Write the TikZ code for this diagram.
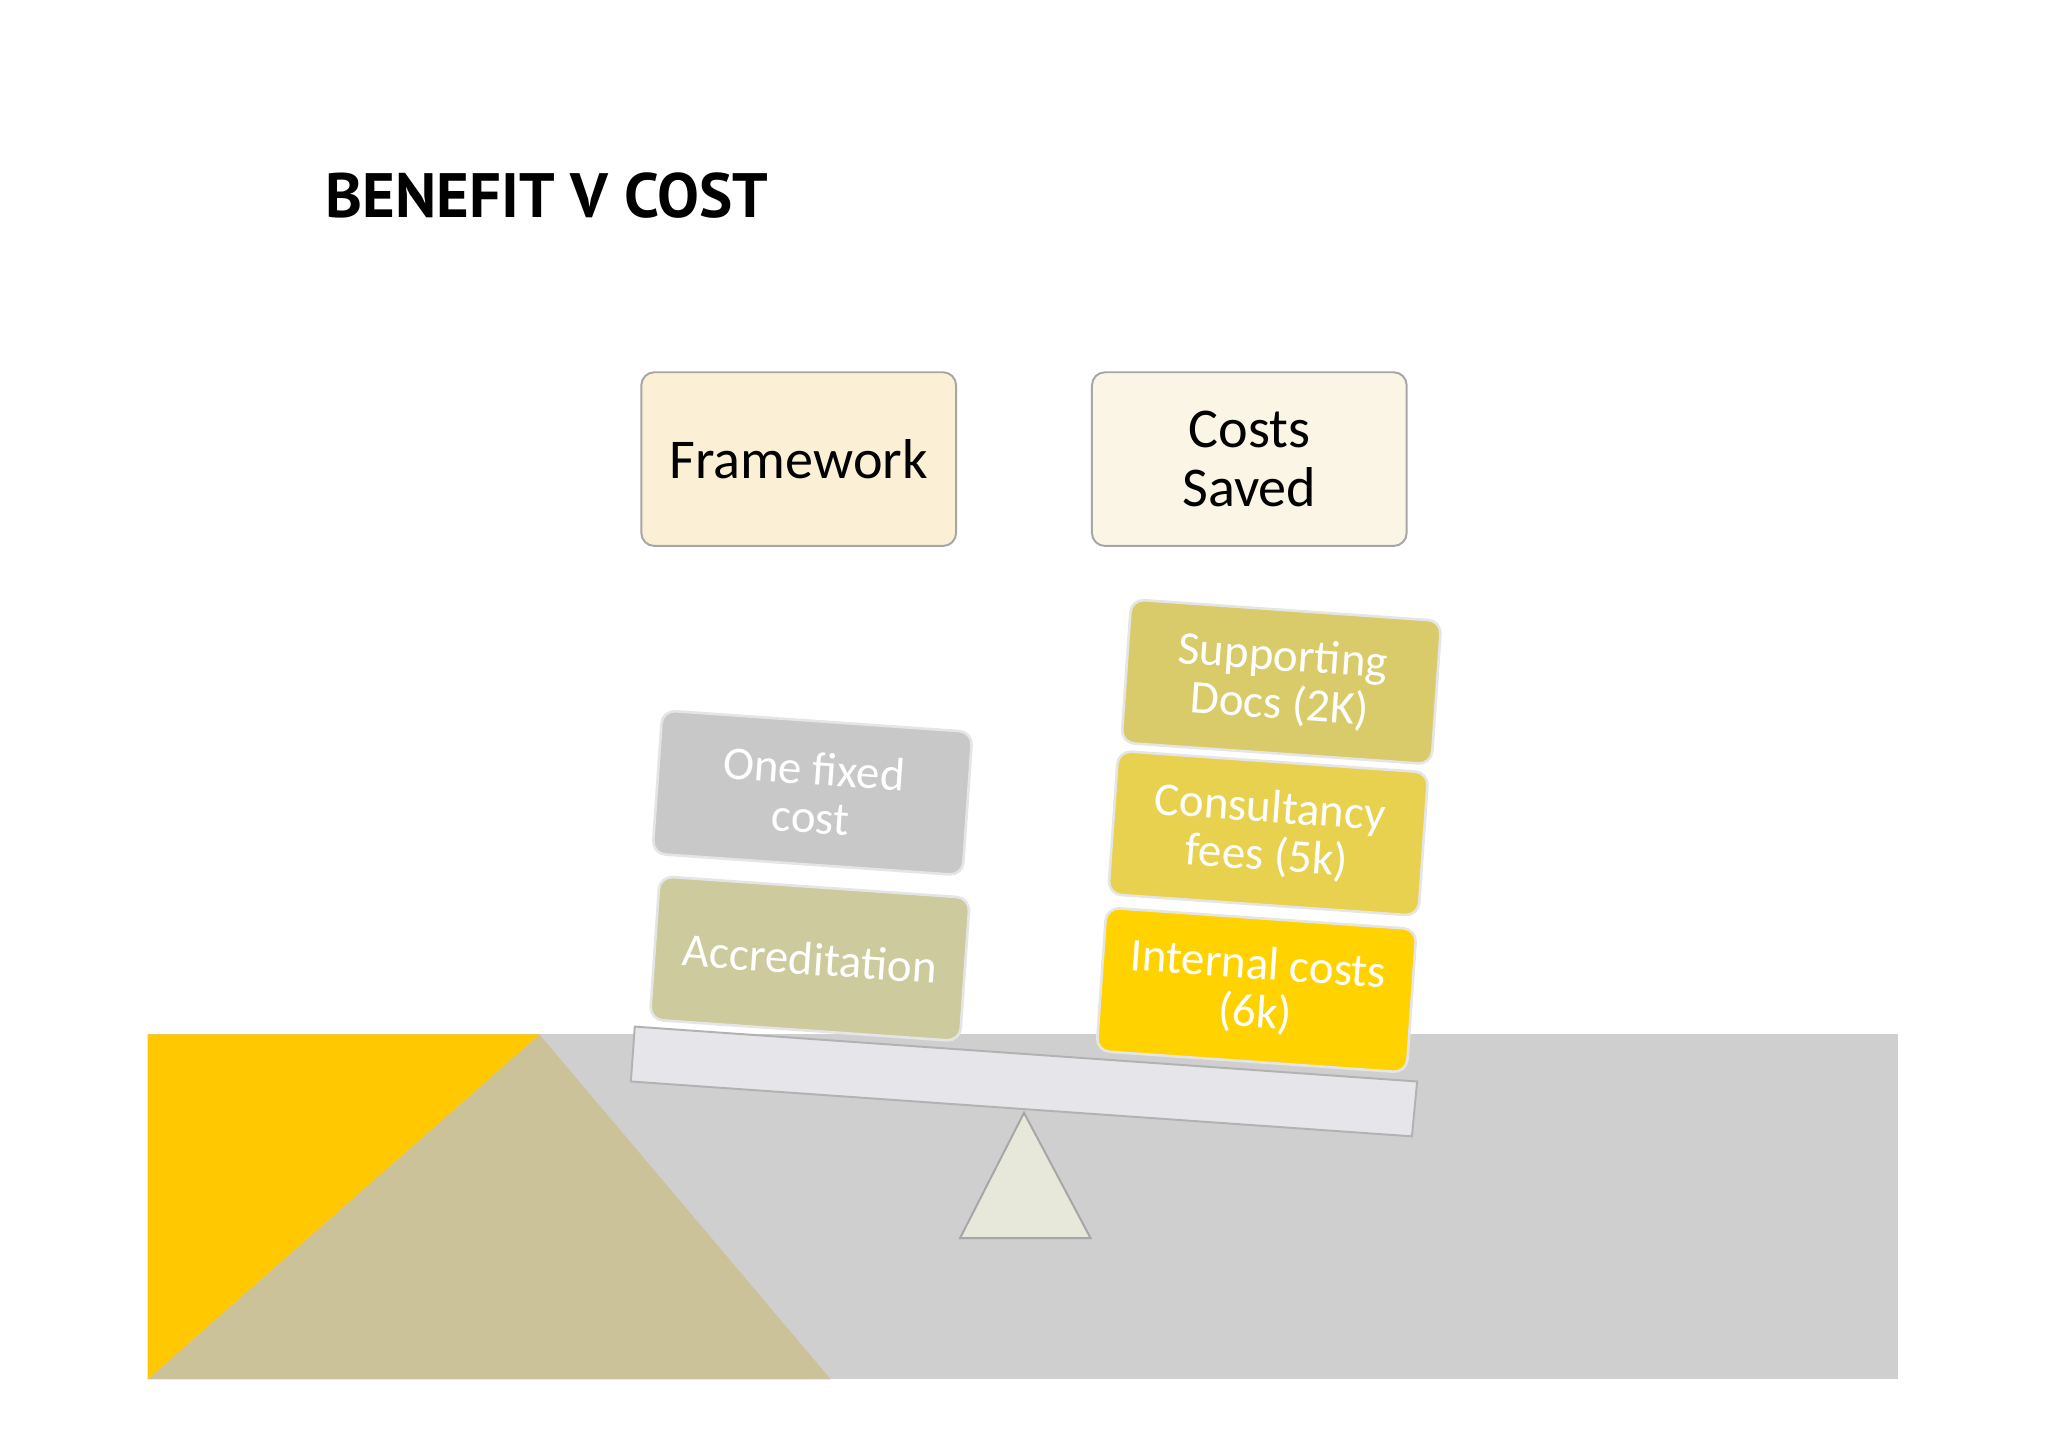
\documentclass[tikz,border=0pt]{standalone}
\usepackage{fontspec}
\setmainfont{Carlito}
\newfontfamily\titlefont{PT Sans}
\definecolor{bggray}{HTML}{CFCFCF}
\definecolor{tanc}{HTML}{CCC29A}
\definecolor{yel}{HTML}{FFC800}
\definecolor{creamA}{HTML}{FBEFD5}
\definecolor{creamB}{HTML}{FBF5E6}
\definecolor{beamc}{HTML}{E6E6EA}
\definecolor{fulc}{HTML}{E8E8DA}
\definecolor{bgrey}{HTML}{C8C8C8}
\definecolor{btan}{HTML}{CDCA9E}
\definecolor{bsup}{HTML}{D9CB6A}
\definecolor{bcon}{HTML}{E9D150}
\definecolor{bint}{HTML}{FFD200}
\begin{document}
\begin{tikzpicture}[x=1pt,y=-1pt,
  topbox/.style={draw=gray!70,line width=1.5pt,rounded corners=10pt,minimum width=241pt,minimum height=133pt,align=center,font=\fontsize{43}{45}\selectfont,text=black},
  blk/.style={draw=white!80!gray,line width=2pt,rounded corners=10pt,minimum width=238pt,minimum height=110pt,align=center,font=\fontsize{36}{37}\selectfont,text=white,rotate=-4}]
\useasboundingbox (0,0) rectangle (1568,1108);
\fill[bggray] (113,792) rectangle (1453,1056);
\fill[tanc] (113,1056) -- (413,792) -- (636,1056) -- cycle;
\fill[yel] (113,792) -- (413,792) -- (113,1056) -- cycle;
\node[anchor=west,font=\titlefont\bfseries\fontsize{48}{50}\selectfont,xscale=1.0] (title) at (246,150) {BENEFIT V COST};
\node[topbox,fill=creamA] (fw) at (611.5,351.5) {Framework};
\node[topbox,fill=creamB] (cs) at (956.5,351.5) {Costs\\Saved};
\draw[fill=fulc,draw=gray!70,line width=1.5pt] (735,948) -- (835,948) -- (784,852) -- cycle;
\draw[fill=beamc,draw=gray!60,line width=1.5pt] (486,786) -- (1085,828) -- (1081,870) -- (483,828) -- cycle;
\node[blk,fill=bgrey] (ofc) at (622,607) {One fixed\\cost};
\node[blk,fill=btan] (acc) at (620,734) {Accreditation};
\node[blk,fill=bsup] (sup) at (981,522) {Supporting\\Docs (2K)};
\node[blk,fill=bcon] (con) at (971,638) {Consultancy\\fees (5k)};
\node[blk,fill=bint] (int) at (962,758) {Internal costs\\(6k)};
\end{tikzpicture}
\end{document}
